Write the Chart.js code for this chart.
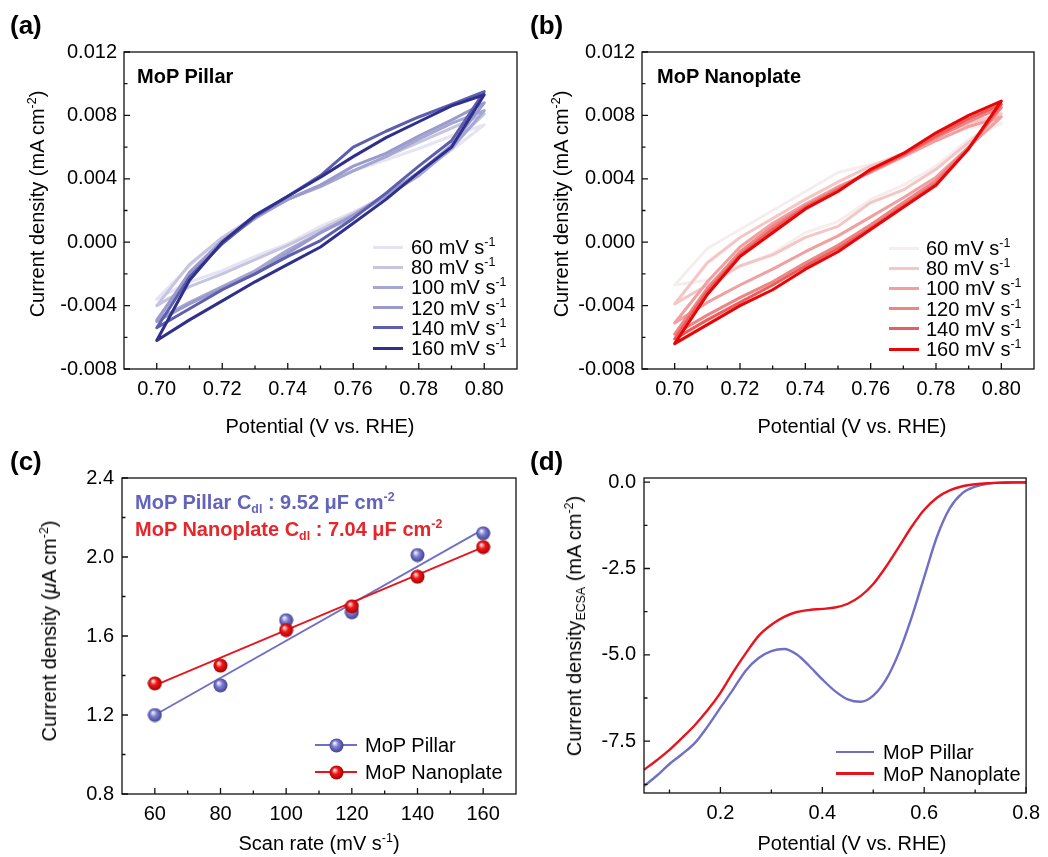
<!DOCTYPE html>
<html>
<head>
<meta charset="utf-8">
<script src="https://cdn.jsdelivr.net/npm/chart.js@4.4.1/dist/chart.umd.min.js"></script>
<style>
  body { margin: 0; background: #fff; }
  #fig { position: relative; width: 1048px; height: 857px; overflow: hidden;
         font-family: "Liberation Sans", Arial, sans-serif; color: #000; }
  canvas { position: absolute; }
  .t { position: absolute; white-space: nowrap; font-size: 20px; line-height: 1; }
  .c { transform: translate(-50%, -50%); }
  .r { transform: translate(-50%, -50%) rotate(-90deg); }
  .b { font-weight: bold; }
  .lab { font-size: 26px; font-weight: bold; }
  sup, sub { font-size: 0.62em; line-height: 0; }
  sup { vertical-align: 0.62em; }
  sub { vertical-align: -0.3em; }
</style>
</head>
<body>
<div id="fig">
  <canvas id="cvA" width="524" height="440" style="left:0;top:0"></canvas>
  <canvas id="cvB" width="524" height="440" style="left:524px;top:0"></canvas>
  <canvas id="cdl" width="524" height="417" style="left:0;top:440px"></canvas>
  <canvas id="lsv" width="524" height="417" style="left:524px;top:440px"></canvas>

  <div class="t lab" style="left:10px;top:12px">(a)</div>
  <div class="t lab" style="left:530px;top:12px">(b)</div>
  <div class="t lab" style="left:10px;top:448px">(c)</div>
  <div class="t lab" style="left:530px;top:448px">(d)</div>

  <div class="t b" style="left:137px;top:66px">MoP Pillar</div>
  <div class="t b" style="left:657px;top:66px">MoP Nanoplate</div>

  <div class="t c" style="left:320px;top:426px">Potential (V vs. RHE)</div>
  <div class="t c" style="left:852px;top:426px">Potential (V vs. RHE)</div>
  <div class="t c" style="left:319px;top:843px">Scan rate (mV s<sup>-1</sup>)</div>
  <div class="t c" style="left:852px;top:843px">Potential (V vs. RHE)</div>

  <div class="t r" style="left:37px;top:204px">Current density (mA cm<sup>-2</sup>)</div>
  <div class="t r" style="left:561px;top:204px">Current density (mA cm<sup>-2</sup>)</div>
  <div class="t r" style="left:49px;top:631px">Current density (<i>μ</i>A cm<sup>-2</sup>)</div>
  <div class="t r" style="left:574px;top:626px">Current density<sub>ECSA</sub> (mA cm<sup>-2</sup>)</div>

  <div class="t b" style="left:135px;top:492px;color:#6363bd">MoP Pillar C<sub>dl</sub> : 9.52 μF cm<sup>-2</sup></div>
  <div class="t b" style="left:135px;top:519px;color:#e5262b">MoP Nanoplate C<sub>dl</sub> : 7.04 μF cm<sup>-2</sup></div>
</div>

<script>
// ---- data (a), (b): CV loops, forward sweep 0.70 -> 0.80 then back to 0.70 ----
const scanRates = [60, 80, 100, 120, 140, 160];
const cvPotential = [0.70, 0.71, 0.72, 0.73, 0.74, 0.75, 0.76, 0.77, 0.78, 0.79, 0.80,
                     0.79, 0.78, 0.77, 0.76, 0.75, 0.74, 0.73, 0.72, 0.71, 0.70];

const pillar60  = [-0.0036, -0.0015, 0.0003, 0.0016, 0.0027, 0.0035, 0.0045, 0.0052, 0.0059, 0.0067, 0.0074,
                   0.0058, 0.0044, 0.0029, 0.0019, 0.0010, -0.0001, -0.0009, -0.0018, -0.0025, -0.0036];
const pillar80  = [-0.0040, -0.0014, 0.0003, 0.0016, 0.0027, 0.0036, 0.0045, 0.0054, 0.0063, 0.0072, 0.0081,
                   0.0061, 0.0044, 0.0030, 0.0018, 0.0008, -0.0002, -0.0011, -0.0020, -0.0028, -0.0040];
const pillar100 = [-0.0049, -0.0020, 0.0000, 0.0015, 0.0027, 0.0035, 0.0045, 0.0054, 0.0065, 0.0075, 0.0083,
                   0.0059, 0.0042, 0.0029, 0.0016, 0.0006, -0.0005, -0.0018, -0.0028, -0.0038, -0.0049];
const pillar120 = [-0.0050, -0.0019, 0.0001, 0.0016, 0.0027, 0.0036, 0.0048, 0.0056, 0.0067, 0.0077, 0.0088,
                   0.0061, 0.0044, 0.0030, 0.0017, 0.0006, -0.0007, -0.0020, -0.0029, -0.0039, -0.0050];
const pillar140 = [-0.0054, -0.0022, -0.0001, 0.0016, 0.0029, 0.0042, 0.0060, 0.0070, 0.0079, 0.0087, 0.0095,
                   0.0064, 0.0048, 0.0031, 0.0015, 0.0001, -0.0009, -0.0020, -0.0030, -0.0042, -0.0054];
const pillar160 = [-0.0062, -0.0024, 0.0000, 0.0017, 0.0029, 0.0041, 0.0054, 0.0066, 0.0076, 0.0086, 0.0093,
                   0.0060, 0.0044, 0.0027, 0.0012, -0.0003, -0.0014, -0.0025, -0.0037, -0.0049, -0.0062];

const nano60  = [-0.0027, -0.0004, 0.0008, 0.0020, 0.0032, 0.0044, 0.0049, 0.0054, 0.0065, 0.0072, 0.0075,
                 0.0065, 0.0048, 0.0036, 0.0027, 0.0013, 0.0006, -0.0007, -0.0015, -0.0024, -0.0027];
const nano80  = [-0.0039, -0.0013, 0.0003, 0.0015, 0.0027, 0.0038, 0.0048, 0.0056, 0.0067, 0.0075, 0.0081,
                 0.0063, 0.0046, 0.0033, 0.0025, 0.0010, 0.0003, -0.0008, -0.0015, -0.0027, -0.0039];
const nano100 = [-0.0051, -0.0025, -0.0003, 0.0012, 0.0024, 0.0035, 0.0044, 0.0054, 0.0064, 0.0073, 0.0079,
                 0.0060, 0.0041, 0.0028, 0.0016, 0.0004, -0.0006, -0.0017, -0.0027, -0.0038, -0.0051];
const nano120 = [-0.0058, -0.0029, -0.0006, 0.0010, 0.0023, 0.0034, 0.0045, 0.0055, 0.0066, 0.0076, 0.0085,
                 0.0060, 0.0039, 0.0025, 0.0011, -0.0002, -0.0013, -0.0025, -0.0035, -0.0046, -0.0058];
const nano140 = [-0.0061, -0.0031, -0.0008, 0.0008, 0.0022, 0.0033, 0.0045, 0.0055, 0.0067, 0.0078, 0.0087,
                 0.0059, 0.0037, 0.0023, 0.0009, -0.0004, -0.0015, -0.0027, -0.0038, -0.0049, -0.0061];
const nano160 = [-0.0064, -0.0033, -0.0009, 0.0006, 0.0021, 0.0032, 0.0046, 0.0056, 0.0069, 0.0080, 0.0089,
                 0.0059, 0.0036, 0.0022, 0.0008, -0.0006, -0.0017, -0.0030, -0.0040, -0.0052, -0.0064];

// ---- data (c): double-layer capacitance ----
const scanRateAxis = [60, 80, 100, 120, 140, 160];
const pillarCurrent = [1.20, 1.35, 1.68, 1.72, 2.01, 2.12];
const nanoCurrent = [1.36, 1.45, 1.63, 1.75, 1.90, 2.05];
const fitRange = [60, 160];
const pillarFit = [1.20, 2.14];
const nanoFit = [1.35, 2.05];

// ---- data (d): LSV normalised by ECSA ----
const lsvPotential = [0.050, 0.075, 0.100, 0.125, 0.150, 0.175, 0.200, 0.225, 0.250, 0.275, 0.300,
                      0.325, 0.350, 0.375, 0.400, 0.425, 0.450, 0.475, 0.500, 0.525, 0.550,
                      0.575, 0.600, 0.625, 0.650, 0.675, 0.700, 0.725, 0.750, 0.775, 0.800];
const pillarLSV = [-8.80, -8.50, -8.16, -7.87, -7.55, -7.07, -6.53, -6.00, -5.45, -5.09, -4.89,
                   -4.83, -4.99, -5.33, -5.71, -6.05, -6.29, -6.36, -6.18, -5.72, -4.95,
                   -3.93, -2.75, -1.58, -0.76, -0.32, -0.13, -0.04, -0.01, 0.00, 0.00];
const nanoLSV = [-8.33, -8.05, -7.75, -7.40, -7.03, -6.60, -6.10, -5.50, -4.95, -4.45, -4.13,
                 -3.90, -3.76, -3.70, -3.67, -3.63, -3.52, -3.30, -2.95, -2.45, -1.88,
                 -1.30, -0.80, -0.45, -0.24, -0.12, -0.06, -0.03, -0.02, -0.01, -0.01];

// ---- tick positions ----
const cvXMajor = [0.70, 0.72, 0.74, 0.76, 0.78, 0.80];
const cvXMinor = [0.71, 0.73, 0.75, 0.77, 0.79];
const cvYMajor = [-0.008, -0.004, 0.000, 0.004, 0.008, 0.012];
const cvYMinor = [-0.006, -0.002, 0.002, 0.006, 0.010];
const cdlXMajor = [60, 80, 100, 120, 140, 160];
const cdlXMinor = [70, 90, 110, 130, 150];
const cdlYMajor = [0.8, 1.2, 1.6, 2.0, 2.4];
const cdlYMinor = [1.0, 1.4, 1.8, 2.2];
const lsvXMajor = [0.2, 0.4, 0.6, 0.8];
const lsvXMinor = [0.1, 0.3, 0.5, 0.7];
const lsvYMajor = [-7.5, -5.0, -2.5, 0.0];
const lsvYMinor = [-8.75, -6.25, -3.75, -1.25];

// ---- styles ----
const FONT = '"Liberation Sans", Arial, sans-serif';
const pillarShades = ['#e4e4f2', '#c5c5e2', '#a6a6d3', '#9a9acc', '#5e5eae', '#2f2f8d'];
const nanoShades = ['#f6eeee', '#f5c6c6', '#f19f9f', '#ee8585', '#eb5d5d', '#e80505'];
const BLUE = '#6f6fc6';
const RED = '#e8141c';

const fig = document.getElementById('fig');

// frame + inward ticks, drawn from the chart's own scales
function framePlugin(xMaj, xMin, yMaj, yMin) {
  return {
    id: 'frame',
    afterDatasetsDraw(chart) {
      const { ctx, chartArea: a, scales } = chart;
      const x = scales.x, y = scales.y;
      ctx.save();
      ctx.strokeStyle = '#111';
      ctx.lineWidth = 1.3;
      ctx.strokeRect(a.left, a.top, a.right - a.left, a.bottom - a.top);
      ctx.beginPath();
      xMaj.forEach(v => { const p = x.getPixelForValue(v); ctx.moveTo(p, a.bottom); ctx.lineTo(p, a.bottom - 6); });
      xMin.forEach(v => { const p = x.getPixelForValue(v); ctx.moveTo(p, a.bottom); ctx.lineTo(p, a.bottom - 3.5); });
      yMaj.forEach(v => { const p = y.getPixelForValue(v); ctx.moveTo(a.left, p); ctx.lineTo(a.left + 6, p); });
      yMin.forEach(v => { const p = y.getPixelForValue(v); ctx.moveTo(a.left, p); ctx.lineTo(a.left + 3.5, p); });
      ctx.stroke();
      ctx.restore();
    }
  };
}

function axis(min, max, majors, decimals, size, vertical, pad) {
  return {
    type: 'linear', min: min, max: max,
    grid: { display: false, drawTicks: false },
    border: { display: false },
    ticks: {
      color: '#000', padding: pad, autoSkip: false, maxRotation: 0,
      font: { family: FONT, size: 20 },
      callback: v => (Math.abs(v) < 1e-9 ? 0 : v).toFixed(decimals)
    },
    afterBuildTicks: s => { s.ticks = majors.map(v => ({ value: v })); },
    afterFit: s => { if (vertical) s.width = size; else s.height = size; }
  };
}

function options(xAxis, yAxis, pad) {
  return {
    responsive: false, animation: false, devicePixelRatio: 1, events: [],
    layout: { padding: pad },
    plugins: { legend: { display: false }, tooltip: { enabled: false } },
    scales: { x: xAxis, y: yAxis }
  };
}

function cvDatasets(series, colors) {
  return series.map((cur, i) => ({
    label: scanRates[i] + ' mV s-1',
    data: cvPotential.map((p, k) => ({ x: p, y: cur[k] })),
    showLine: true, borderColor: colors[i], borderWidth: 3, pointRadius: 0,
    tension: 0, borderJoinStyle: 'round', borderCapStyle: 'round',
    order: series.length - i
  }));
}

function sphere(light, base, dark) {
  const c = document.createElement('canvas');
  c.width = c.height = 15;
  const g = c.getContext('2d');
  const grad = g.createRadialGradient(5.5, 5, 0.5, 7.5, 7.5, 7.5);
  grad.addColorStop(0, light);
  grad.addColorStop(0.4, base);
  grad.addColorStop(1, dark);
  g.fillStyle = grad;
  g.beginPath();
  g.arc(7.5, 7.5, 7, 0, Math.PI * 2);
  g.fill();
  return c;
}

function legend(left, top, rowH, lineLen, gap, items) {
  items.forEach((it, i) => {
    const y = top + i * rowH;
    const ln = document.createElement('div');
    ln.style.cssText = 'position:absolute;left:' + left + 'px;top:' + (y - it.width / 2) +
      'px;width:' + lineLen + 'px;height:' + it.width + 'px;background:' + it.color;
    fig.appendChild(ln);
    if (it.marker) {
      const img = document.createElement('img');
      img.src = it.marker.toDataURL();
      img.style.cssText = 'position:absolute;left:' + (left + lineLen / 2 - 7.5) + 'px;top:' + (y - 7.5) + 'px';
      fig.appendChild(img);
    }
    const tx = document.createElement('div');
    tx.className = 't';
    tx.style.left = (left + lineLen + gap) + 'px';
    tx.style.top = (y - 10) + 'px';
    tx.innerHTML = it.html;
    fig.appendChild(tx);
  });
}

// (a) MoP Pillar CV
new Chart(document.getElementById('cvA'), {
  type: 'scatter',
  data: { datasets: cvDatasets([pillar60, pillar80, pillar100, pillar120, pillar140, pillar160], pillarShades) },
  options: options(
    axis(0.69, 0.81, cvXMajor, 2, 71, false, 8),
    axis(-0.008, 0.012, cvYMajor, 3, 124, true, 7),
    { left: 0, top: 52, right: 7, bottom: 0 }),
  plugins: [framePlugin(cvXMajor, cvXMinor, cvYMajor, cvYMinor)]
});

// (b) MoP Nanoplate CV
new Chart(document.getElementById('cvB'), {
  type: 'scatter',
  data: { datasets: cvDatasets([nano60, nano80, nano100, nano120, nano140, nano160], nanoShades) },
  options: options(
    axis(0.69, 0.81, cvXMajor, 2, 71, false, 8),
    axis(-0.008, 0.012, cvYMajor, 3, 118, true, 7),
    { left: 0, top: 52, right: 14, bottom: 0 }),
  plugins: [framePlugin(cvXMajor, cvXMinor, cvYMajor, cvYMinor)]
});

legend(373, 247, 20.2, 30, 8, scanRates.map((r, i) => ({ color: pillarShades[i], width: 3, html: r + ' mV s<sup>-1</sup>' })));
legend(889, 248, 20.2, 30, 7, scanRates.map((r, i) => ({ color: nanoShades[i], width: 3, html: r + ' mV s<sup>-1</sup>' })));

// (c) Cdl plot
const blueBall = sphere('#f0f0ff', '#7d7dd0', '#3c3c8c');
const redBall = sphere('#ffe0e0', '#f01818', '#a00000');

new Chart(document.getElementById('cdl'), {
  type: 'scatter',
  data: {
    datasets: [
      { data: fitRange.map((x, i) => ({ x: x, y: pillarFit[i] })), showLine: true,
        borderColor: BLUE, borderWidth: 1.8, pointRadius: 0, order: 4 },
      { data: fitRange.map((x, i) => ({ x: x, y: nanoFit[i] })), showLine: true,
        borderColor: RED, borderWidth: 1.8, pointRadius: 0, order: 3 },
      { data: scanRateAxis.map((x, i) => ({ x: x, y: pillarCurrent[i] })), showLine: false,
        pointStyle: blueBall, pointRadius: 7, order: 2 },
      { data: scanRateAxis.map((x, i) => ({ x: x, y: nanoCurrent[i] })), showLine: false,
        pointStyle: redBall, pointRadius: 7, order: 1 }
    ]
  },
  options: options(
    axis(50, 170, cdlXMajor, 0, 63, false, 8),
    axis(0.8, 2.4, cdlYMajor, 1, 122, true, 8),
    { left: 0, top: 38, right: 8, bottom: 0 }),
  plugins: [framePlugin(cdlXMajor, cdlXMinor, cdlYMajor, cdlYMinor)]
});

legend(315, 745, 27, 42, 8, [
  { color: BLUE, width: 1.8, marker: blueBall, html: 'MoP Pillar' },
  { color: RED, width: 1.8, marker: redBall, html: 'MoP Nanoplate' }
]);

// (d) LSV
new Chart(document.getElementById('lsv'), {
  type: 'scatter',
  data: {
    datasets: [
      { data: lsvPotential.map((x, i) => ({ x: x, y: nanoLSV[i] })), showLine: true,
        borderColor: RED, borderWidth: 2.4, pointRadius: 0, tension: 0.4, cubicInterpolationMode: 'monotone' },
      { data: lsvPotential.map((x, i) => ({ x: x, y: pillarLSV[i] })), showLine: true,
        borderColor: BLUE, borderWidth: 2.4, pointRadius: 0, tension: 0.4, cubicInterpolationMode: 'monotone' }
    ]
  },
  options: options(
    axis(0.05, 0.8, lsvXMajor, 1, 64, false, 8),
    axis(-9.0, 0.12, lsvYMajor, 1, 120, true, 8),
    { left: 0, top: 38, right: 14, bottom: 0 }),
  plugins: [framePlugin(lsvXMajor, lsvXMinor, lsvYMajor, lsvYMinor)]
});

legend(836, 752, 21.5, 38, 9, [
  { color: BLUE, width: 2.4, html: 'MoP Pillar' },
  { color: RED, width: 2.4, html: 'MoP Nanoplate' }
]);
</script>
</body>
</html>
